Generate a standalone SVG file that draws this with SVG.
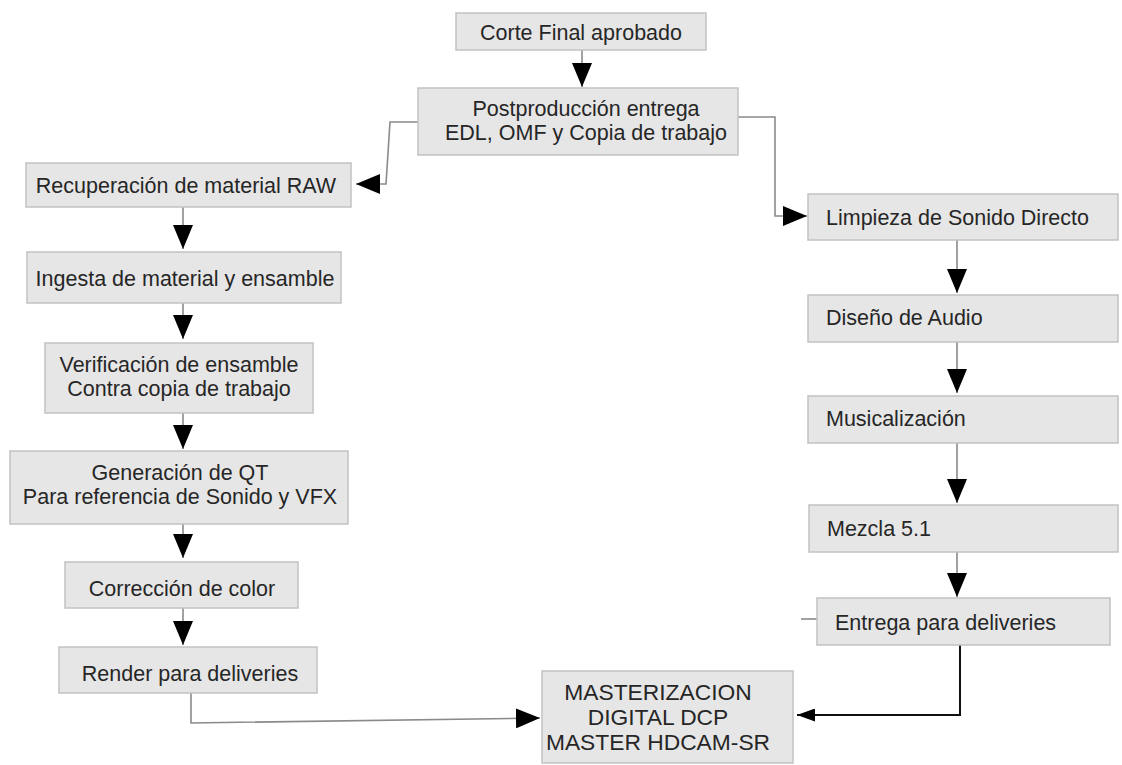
<svg xmlns="http://www.w3.org/2000/svg" width="1122" height="765" viewBox="0 0 1122 765">
<style>
.box{fill:#e6e6e6;stroke:#c2c2c2;stroke-width:1.5}
.t{font-family:"Liberation Sans",Arial,sans-serif;font-size:21.5px;fill:#262626}
.c{text-anchor:middle}
.m{font-size:22.8px}
.ln{fill:none;stroke:#8a8a8a;stroke-width:1.6}
.lk{fill:none;stroke:#111;stroke-width:2}
</style>
<defs>
<marker id="arr" markerUnits="userSpaceOnUse" markerWidth="24" markerHeight="20" refX="24" refY="10" orient="auto"><path d="M0,0 L24,10 L0,20 z" fill="#000"/></marker>
<marker id="arrS" markerUnits="userSpaceOnUse" markerWidth="18" markerHeight="13" refX="18" refY="6.5" orient="auto"><path d="M0,0 L18,6.5 L0,13 z" fill="#000"/></marker>
</defs>
<rect width="1122" height="765" fill="#fff"/>
<g id="connectors">
<path class="ln" d="M582,50 V87" marker-end="url(#arr)"/>
<path class="ln" d="M418,122 H390 L386,184 H356" marker-end="url(#arr)"/>
<path class="ln" d="M738,117 H775 V216 H807" marker-end="url(#arr)"/>
<path class="ln" d="M183,207 V249" marker-end="url(#arr)"/>
<path class="ln" d="M183,303 V339" marker-end="url(#arr)"/>
<path class="ln" d="M183,413 V449" marker-end="url(#arr)"/>
<path class="ln" d="M183,524 V558" marker-end="url(#arr)"/>
<path class="ln" d="M183,608 V645" marker-end="url(#arr)"/>
<path class="ln" d="M191,693 V723 L540,718" marker-end="url(#arr)"/>
<path class="ln" d="M957,240 V293" marker-end="url(#arr)"/>
<path class="ln" d="M957,342 V393" marker-end="url(#arr)"/>
<path class="ln" d="M957,443 V503" marker-end="url(#arr)"/>
<path class="ln" d="M957,552 V597" marker-end="url(#arr)"/>
<path class="ln" d="M801,619 H817" stroke="#bbb"/>
<path class="lk" d="M960,639 V715 H797" marker-end="url(#arrS)"/>
</g>
<g id="n-corte"><rect class="box" x="456" y="13" width="250" height="37"/><text class="t c" x="581" y="40">Corte Final aprobado</text></g>
<g id="n-post"><rect class="box" x="418" y="88" width="320" height="67"/><text class="t c" x="586" y="116">Postproducción entrega</text><text class="t c" x="586" y="140">EDL, OMF y Copia de trabajo</text></g>
<g id="n-recup"><rect class="box" x="26" y="163" width="325" height="44"/><text class="t c" x="186" y="193">Recuperación de material RAW</text></g>
<g id="n-ingesta"><rect class="box" x="27" y="252" width="314" height="51"/><text class="t c" x="185" y="286">Ingesta de material y ensamble</text></g>
<g id="n-verif"><rect class="box" x="45" y="343" width="268" height="70"/><text class="t c" x="179" y="372">Verificación de ensamble</text><text class="t c" x="179" y="396">Contra copia de trabajo</text></g>
<g id="n-gener"><rect class="box" x="10" y="451" width="338" height="73"/><text class="t c" x="180" y="480">Generación de QT</text><text class="t c" x="180" y="504">Para referencia de Sonido y VFX</text></g>
<g id="n-correc"><rect class="box" x="65" y="562" width="233" height="46"/><text class="t c" x="182" y="596">Corrección de color</text></g>
<g id="n-render"><rect class="box" x="59" y="647" width="258" height="46"/><text class="t c" x="190" y="681">Render para deliveries</text></g>
<g id="n-master"><rect class="box" x="542" y="671" width="251" height="92"/><text class="t c m" x="658" y="700">MASTERIZACION</text><text class="t c m" x="658" y="725">DIGITAL DCP</text><text class="t c m" x="658" y="750">MASTER HDCAM-SR</text></g>
<g id="n-limpieza"><rect class="box" x="808" y="194" width="310" height="46"/><text class="t" x="826" y="225">Limpieza de Sonido Directo</text></g>
<g id="n-diseno"><rect class="box" x="808" y="295" width="310" height="47"/><text class="t" x="826" y="325">Diseño de Audio</text></g>
<g id="n-music"><rect class="box" x="808" y="396" width="310" height="47"/><text class="t" x="826" y="426">Musicalización</text></g>
<g id="n-mezcla"><rect class="box" x="809" y="505" width="309" height="47"/><text class="t" x="827" y="536">Mezcla 5.1</text></g>
<g id="n-entrega"><rect class="box" x="817" y="598" width="293" height="47"/><text class="t" x="835" y="630">Entrega para deliveries</text></g>
</svg>
